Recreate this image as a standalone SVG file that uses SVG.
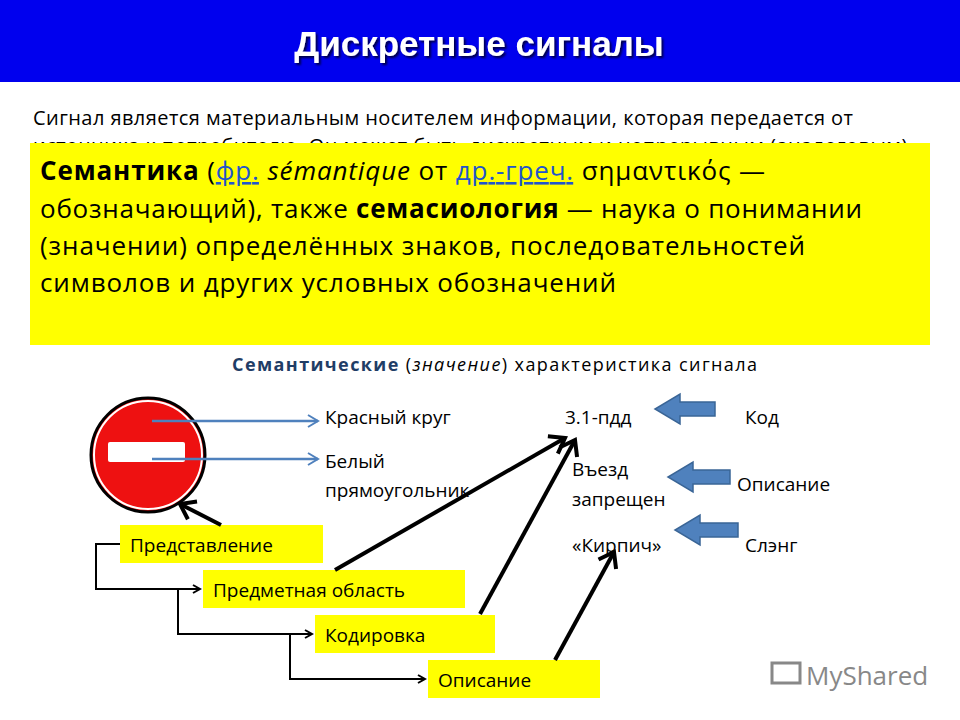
<svg xmlns="http://www.w3.org/2000/svg" width="960" height="720" viewBox="0 0 960 720">
<defs>
<style>
text{font-family:"Open Sans","Noto Sans","DejaVu Sans",sans-serif;fill:#000}
.lbl{font-size:19px}
.big{font-size:26px}
.box{fill:#ffff00}
.blk{stroke:#000;stroke-width:4;fill:none}
.thin{stroke:#000;stroke-width:2;fill:none}
.bl{fill:#4f81bd;stroke:#3a6596;stroke-width:1.5}
</style>
<filter id="sh" x="-5%" y="-20%" width="110%" height="140%"><feDropShadow dx="2" dy="2" stdDeviation="1" flood-color="#000" flood-opacity="0.7"/></filter>
<marker id="ah" markerWidth="10" markerHeight="10" refX="8" refY="5" orient="auto" markerUnits="userSpaceOnUse"><path d="M1,1 L8,5 L1,9" fill="none" stroke="#000" stroke-width="2"/></marker>
<marker id="bah" markerWidth="14" markerHeight="14" refX="12" refY="7" orient="auto" markerUnits="userSpaceOnUse"><path d="M2,1 L12,7 L2,13" fill="none" stroke="#4f81bd" stroke-width="2"/></marker>
<marker id="kah" markerWidth="24" markerHeight="24" refX="18" refY="12" orient="auto" markerUnits="userSpaceOnUse"><path d="M4,2 L18,12 L4,22" fill="none" stroke="#000" stroke-width="4"/></marker>
</defs>
<rect width="960" height="720" fill="#fff"/>
<rect x="0" y="0" width="960" height="82" fill="#0000ee"/>
<text x="479" y="56" font-size="35" font-weight="bold" text-anchor="middle" filter="url(#sh)" style="font-family:'Liberation Sans',Arial,sans-serif;fill:#fff">Дискретные сигналы</text>
<text x="33" y="125" font-size="20" textLength="820">Сигнал является материальным носителем информации, которая передается от</text>
<text x="33" y="153" font-size="20" textLength="880">источника к потребителю. Он может быть дискретным и непрерывным (аналоговым).</text>
<g id="semantics">
<rect x="30" y="143" width="900" height="202" fill="#ffff00"/>
<text x="40" y="180" class="big" textLength="725"><tspan font-weight="bold">Семантика</tspan> (<tspan text-decoration="underline" style="fill:#2255cc">фр.</tspan> <tspan font-style="italic">sémantique</tspan> от <tspan style="fill:#2255cc" text-decoration="underline">др.-греч.</tspan> σημαντικός —</text>
<text x="40" y="218" class="big" textLength="822">обозначающий), также <tspan font-weight="bold">семасиология</tspan> — наука о понимании</text>
<text x="40" y="255" class="big" textLength="765">(значении) определённых знаков, последовательностей</text>
<text x="40" y="292" class="big" textLength="576">символов и других условных обозначений</text>
</g>
<text x="232" y="371" font-size="18" textLength="525"><tspan font-weight="bold" style="fill:#1f3d66">Семантические</tspan> (<tspan font-style="italic">значение</tspan>) характеристика сигнала</text>
<g id="sign">
<circle cx="148" cy="455" r="57" fill="#ee1111" stroke="#000" stroke-width="3"/>
<circle cx="148" cy="455" r="54" fill="none" stroke="#fff" stroke-width="2"/>
<rect x="108" y="442" width="77" height="20" rx="2" fill="#fff"/>
</g>
<g id="labels">
<text x="325" y="424" class="lbl">Красный круг</text>
<text x="325" y="468" class="lbl">Белый</text>
<text x="325" y="497" class="lbl">прямоугольник</text>
<text x="565" y="424" class="lbl">3.1-пдд</text>
<text x="572" y="476" class="lbl">Въезд</text>
<text x="572" y="506" class="lbl">запрещен</text>
<text x="572" y="552" class="lbl">«Кирпич»</text>
<text x="745" y="424" class="lbl">Код</text>
<text x="737" y="491" class="lbl">Описание</text>
<text x="745" y="552" class="lbl">Слэнг</text>
</g>
<g id="n1"><rect class="box" x="120" y="525" width="203" height="38"/><text x="130" y="552" class="lbl">Представление</text></g>
<g id="n2"><rect class="box" x="203" y="570" width="262" height="38"/><text x="213" y="597" class="lbl">Предметная область</text></g>
<g id="n3"><rect class="box" x="315" y="615" width="180" height="38"/><text x="325" y="642" class="lbl">Кодировка</text></g>
<g id="n4"><rect class="box" x="428" y="660" width="172" height="38"/><text x="438" y="687" class="lbl">Описание</text></g>
<g id="connectors">
<line x1="152" y1="421" x2="318" y2="421" stroke="#4f81bd" stroke-width="2.5" marker-end="url(#bah)"/>
<line x1="152" y1="459" x2="318" y2="459" stroke="#4f81bd" stroke-width="2.5" marker-end="url(#bah)"/>
<path class="thin" d="M120,544 H96 V589 H200" marker-end="url(#ah)"/>
<path class="thin" d="M178,589 V634 H312" marker-end="url(#ah)"/>
<path class="thin" d="M290,634 V679 H425" marker-end="url(#ah)"/>
<line class="blk" x1="221" y1="525" x2="180" y2="504" marker-end="url(#kah)"/>
<line class="blk" x1="335" y1="570" x2="565" y2="438" marker-end="url(#kah)"/>
<line class="blk" x1="480" y1="614" x2="575" y2="440" marker-end="url(#kah)"/>
<line class="blk" x1="555" y1="660" x2="614" y2="552" marker-end="url(#kah)"/>
<path class="bl" d="M715,402 V416 H680 V424 L655,409 L680,394 V402 Z"/>
<path class="bl" d="M730,470 V484 H693 V492 L668,477 L693,462 V470 Z"/>
<path class="bl" d="M738,523 V537 H700 V545 L675,530 L700,515 V523 Z"/>
</g>
<g id="logo">
<rect x="772" y="663" width="28" height="20" fill="none" stroke="#888" stroke-width="3"/>
<text x="806" y="685" font-size="26" style="fill:#888">MyShared</text>
</g>
</svg>
